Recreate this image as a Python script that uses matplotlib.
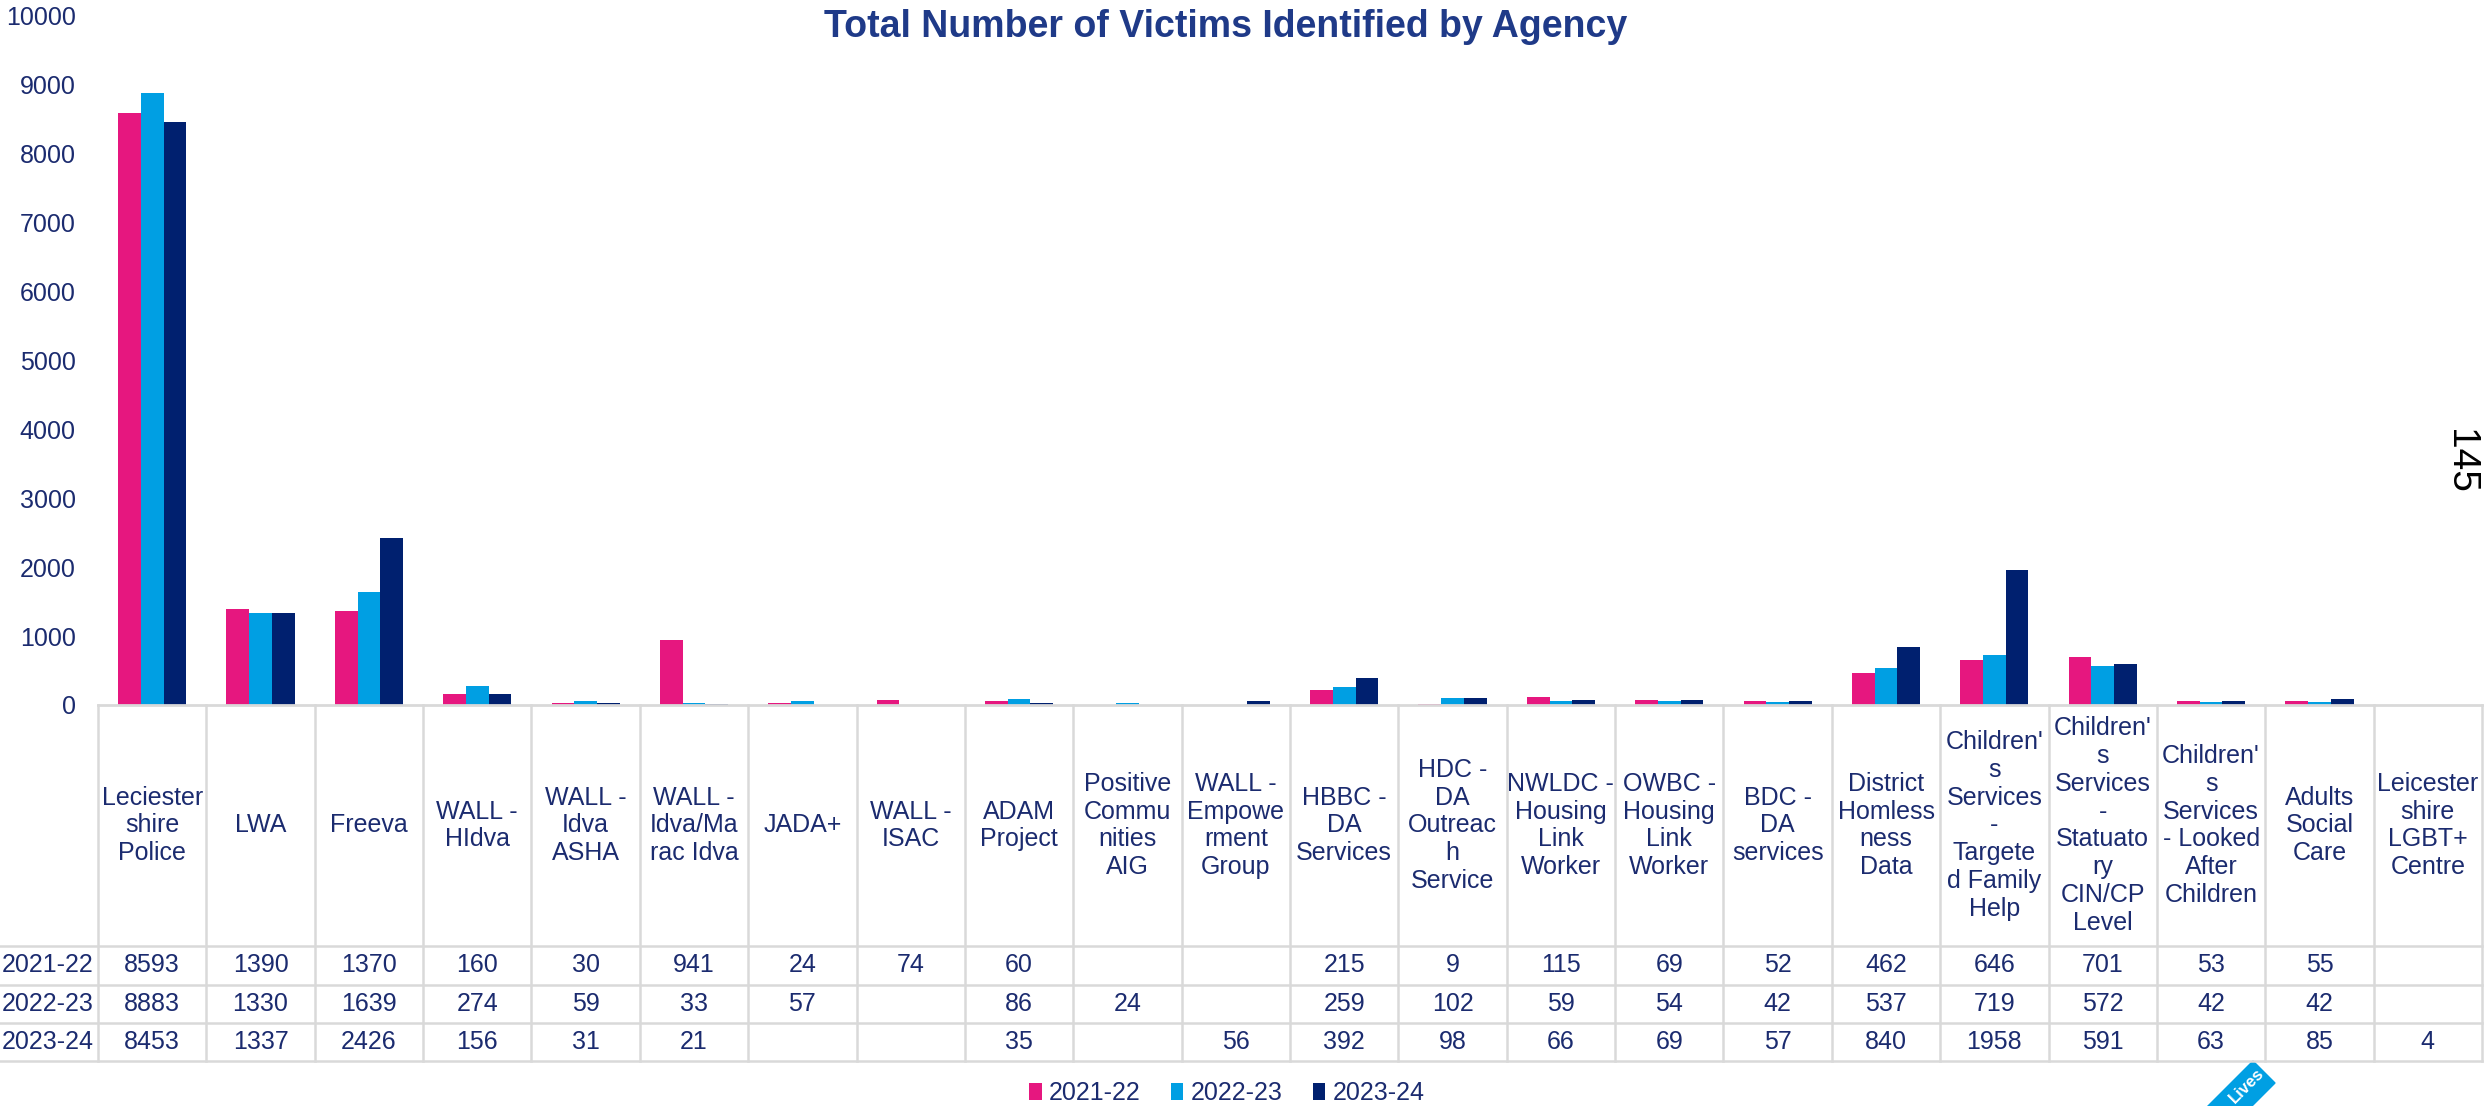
import numpy as np
import matplotlib.pyplot as plt
import matplotlib.transforms as mtransforms
from matplotlib.lines import Line2D
from matplotlib.patches import Polygon

plt.rcParams['font.family'] = ['Liberation Sans', 'DejaVu Sans']

# agency names, wrapped the way the table header shows them
agencies = [
    "Leciester\nshire\nPolice", "LWA", "Freeva", "WALL -\nHIdva",
    "WALL -\nIdva\nASHA", "WALL -\nIdva/Ma\nrac Idva", "JADA+", "WALL -\nISAC",
    "ADAM\nProject", "Positive\nCommu\nnities\nAIG", "WALL -\nEmpowe\nrment\nGroup",
    "HBBC -\nDA\nServices", "HDC -\nDA\nOutreac\nh\nService",
    "NWLDC -\nHousing\nLink\nWorker", "OWBC -\nHousing\nLink\nWorker",
    "BDC -\nDA\nservices", "District\nHomless\nness\nData",
    "Children'\ns\nServices\n-\nTargete\nd Family\nHelp",
    "Children'\ns\nServices\n-\nStatuato\nry\nCIN/CP\nLevel",
    "Children'\ns\nServices\n- Looked\nAfter\nChildren",
    "Adults\nSocial\nCare", "Leicester\nshire\nLGBT+\nCentre",
]
years = ["2021-22", "2022-23", "2023-24"]
nan = np.nan
v2122 = [8593, 1390, 1370, 160, 30, 941, 24, 74, 60, nan, nan, 215, 9, 115, 69, 52,
         462, 646, 701, 53, 55, nan]
v2223 = [8883, 1330, 1639, 274, 59, 33, 57, nan, 86, 24, nan, 259, 102, 59, 54, 42,
         537, 719, 572, 42, 42, nan]
v2324 = [8453, 1337, 2426, 156, 31, 21, nan, nan, 35, nan, 56, 392, 98, 66, 69, 57,
         840, 1958, 591, 63, 85, 4]
yticks = [0, 1000, 2000, 3000, 4000, 5000, 6000, 7000, 8000, 9000, 10000]

colours = ["#E6177F", "#009FE3", "#00206F"]
text_col = "#1B2B6F"
title_col = "#1F3A88"
line_col = "#D9D9D9"
fs = 18

W, H = 2486, 1106
fig = plt.figure(figsize=(W / 100, H / 100), dpi=100)


def fy(py):
    # pixel row from the top -> figure fraction
    return 1 - py / H


ax = fig.add_axes([98 / W, fy(705), (2482 - 98) / W, (705 - 15.5) / H])
x = np.arange(len(agencies))
bw = 0.21
series = [v2122, v2223, v2324]
for k in range(3):
    ax.bar(x + (k - 1) * bw, np.array(series[k], dtype=float), bw,
           color=colours[k], label=years[k])

ax.set_xlim(-0.5, len(agencies) - 0.5)
ax.set_ylim(0, 10000)
ax.set_yticks(yticks)
ax.set_xticks([])
ax.tick_params(axis='y', length=0, pad=16, labelsize=fs, labelcolor=text_col)
for s in ['left', 'right', 'top']:
    ax.spines[s].set_visible(False)
ax.spines['bottom'].set_color(line_col)
ax.spines['bottom'].set_linewidth(2)

# data table under the chart
blend = mtransforms.blended_transform_factory(ax.transData, fig.transFigure)
for i in range(len(agencies) + 1):
    fig.add_artist(Line2D([i - 0.5, i - 0.5], [fy(705), fy(1061)], transform=blend,
                          color=line_col, lw=1.8))
for py in [946, 985, 1023, 1061]:
    fig.add_artist(Line2D([0, 2482 / W], [fy(py), fy(py)], transform=fig.transFigure,
                          color=line_col, lw=1.8))

for i, name in enumerate(agencies):
    ax.text(i, fy(825.5), name, transform=blend, ha='center', va='center',
            fontsize=fs, color=text_col, linespacing=1.2)

row_y = [965.5, 1004, 1042]
for r in range(3):
    fig.text(2 / W, fy(row_y[r]), years[r], ha='left', va='center',
             fontsize=fs, color=text_col)
    for i, v in enumerate(series[r]):
        if not np.isnan(v):
            ax.text(i, fy(row_y[r]), str(int(v)), transform=blend, ha='center',
                    va='center', fontsize=fs, color=text_col)

fig.legend(loc='center', bbox_to_anchor=(1227 / W, fy(1093)), ncol=3, frameon=False,
           fontsize=fs, handlelength=0.5, handleheight=0.65, handletextpad=0.3,
           columnspacing=1.2, labelcolor=text_col, borderpad=0)

fig.text(1226 / W, fy(27), "Total Number of Victims Identified by Agency",
         ha='center', va='center', fontsize=27, fontweight='bold', color=title_col)

fig.text(2460 / W, fy(461), "145", rotation=270, ha='center', va='center',
         fontsize=28, color='black')

# bit of the logo badge cut off at the bottom edge
badge = [(2253, 1061), (2275, 1083), (2215, 1143), (2193, 1121)]
fig.add_artist(Polygon([(px, H - py) for px, py in badge], closed=True,
                       transform=None, color="#009FE3"))
fig.text(2247 / W, fy(1086), "Lives", rotation=45, ha='center', va='center',
         fontsize=12, fontweight='bold', color='white')

fig.savefig("out.png", dpi=100)
